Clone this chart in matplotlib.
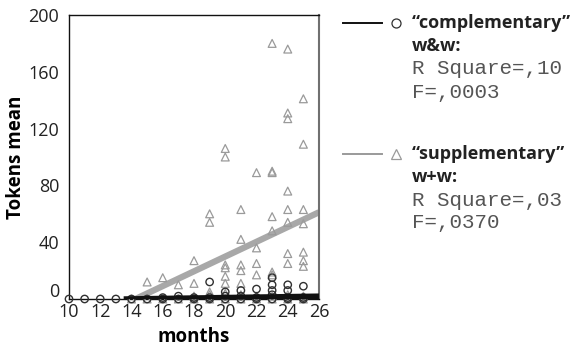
#!/usr/bin/env python3
# -*- coding: utf-8 -*-
"""
Tokens mean by months: complementary (w&w) vs supplementary (w+w), with linear fits.
"""

import numpy as np
import matplotlib
matplotlib.use("Agg")
import matplotlib.pyplot as plt
import matplotlib.transforms as mtransforms
from matplotlib.lines import Line2D

# ===================== data =====================
COMP_MONTHS = [10, 11, 12, 13, 14, 15, 16, 16, 17, 17, 18, 18,
               19, 19, 19, 20, 20, 20, 21, 21, 21, 22, 22, 22,
               23, 23, 23, 23, 23, 24, 24, 24, 24, 25, 25, 25]
COMP_TOKENS = [0, 0, 0, 0, 0, 0, 0, 1, 0, 2, 0, 1,
               0, 1, 12, 0, 2, 5, 0, 2, 6, 0, 1, 7,
               0, 3, 6, 10, 15, 0, 1, 6, 10, 0, 1, 9]

SUPP_MONTHS = [14, 15, 15, 16, 16, 17, 17,
               18, 18, 18, 18,
               19, 19, 19, 19, 19,
               20, 20, 20, 20, 20, 20, 20, 20,
               21, 21, 21, 21, 21, 21, 21,
               22, 22, 22, 22, 22, 22,
               23, 23, 23, 23, 23, 23, 23, 23, 23,
               24, 24, 24, 24, 24, 24, 24, 24, 24, 24,
               25, 25, 25, 25, 25, 25, 25, 25, 25]
SUPP_TOKENS = [0, 0, 12, 0, 15, 0, 10,
               0, 2, 11, 27,
               0, 3, 5, 54, 60,
               0, 4, 11, 16, 22, 24, 100, 106,
               0, 3, 11, 20, 24, 42, 63,
               0, 2, 17, 25, 36, 89,
               0, 2, 17, 19, 48, 58, 89, 90, 180,
               0, 3, 25, 32, 54, 63, 76, 127, 131, 176,
               0, 2, 23, 27, 33, 53, 63, 109, 141]

# linear fits (intercept, slope)
COMP_FIT = (-2.2, 0.16)
SUPP_FIT = (-74.1, 5.2)
COMP_FIT_RANGE = (13.5, 26)
SUPP_FIT_RANGE = (10, 26)

X_TICKS = [10, 12, 14, 16, 18, 20, 22, 24, 26]
Y_TICKS = [0, 40, 80, 120, 160, 200]

LEGEND_ROWS = [
    ("\u201ccomplementary\u201d", "w&w:", "R Square=,10", "F=,0003"),
    ("\u201csupplementary\u201d", "w+w:", "R Square=,03", "F=,0370"),
]

SANS = ["Open Sans", "DejaVu Sans"]
MONO = ["Liberation Mono", "DejaVu Sans Mono"]

# ===================== plot =====================
W, H = 580, 347
fig = plt.figure(figsize=(W / 100, H / 100), dpi=100)
ax = fig.add_axes([69 / W, 1 - 299 / H, (319 - 69) / W, (299 - 15) / H])

ax.scatter(SUPP_MONTHS, SUPP_TOKENS, marker="^", s=32, facecolors="none",
           edgecolors="#9a9a9a", linewidths=0.9, clip_on=False, zorder=3)
ax.scatter(COMP_MONTHS, COMP_TOKENS, marker="o", s=28, facecolors="none",
           edgecolors="#303030", linewidths=1.0, clip_on=False, zorder=4)

xs = np.linspace(*SUPP_FIT_RANGE, 50)
ax.plot(xs, SUPP_FIT[0] + SUPP_FIT[1] * xs, color="#a8a8a8", lw=4.5,
        solid_capstyle="butt", zorder=2)
xc = np.linspace(*COMP_FIT_RANGE, 50)
ax.plot(xc, COMP_FIT[0] + COMP_FIT[1] * xc, color="#111111", lw=4.0,
        solid_capstyle="butt", zorder=5)

ax.set_xlim(10, 26)
ax.set_ylim(0, 200)
ax.set_xticks(X_TICKS)
ax.set_yticks(Y_TICKS)
ax.tick_params(length=0, labelsize=13, colors="#222222")
ax.tick_params(axis="y", pad=7)
ax.tick_params(axis="x", pad=3)
for lab in ax.get_xticklabels() + ax.get_yticklabels():
    lab.set_family(SANS)

# the "0" label sits a bit above the baseline in the original
ylabs = ax.get_yticklabels()
ylabs[0].set_transform(ylabs[0].get_transform() +
                       mtransforms.ScaledTranslation(0, 9 / 100, fig.dpi_scale_trans))

for side in ["left", "top", "bottom"]:
    ax.spines[side].set_color("#111111")
    ax.spines[side].set_linewidth(1.0)
ax.spines["right"].set_color("#707070")
ax.spines["right"].set_linewidth(1.5)

ax.set_xlabel("months", family=SANS, fontsize=13.5, fontweight="bold", labelpad=4)
ax.set_ylabel("Tokens mean", family=SANS, fontsize=13.5, fontweight="bold", labelpad=2)

# ===================== legend (drawn by hand) =====================
def px(x, y):
    return x / W, 1 - y / H

styles = [("#111111", "o", "#303030"), ("#9a9a9a", "^", "#9a9a9a")]
tops = [23, 154]
for (title, sub, r2, f), (lc, mk, mc), y0 in zip(LEGEND_ROWS, styles, tops):
    x1, y1 = px(343, y0)
    x2, _ = px(382, y0)
    fig.add_artist(Line2D([x1, x2], [y1, y1], color=lc, lw=1.4,
                          transform=fig.transFigure))
    xm, _ = px(396, y0)
    fig.add_artist(Line2D([xm], [y1], marker=mk, markersize=6.5,
                          markerfacecolor="none", markeredgecolor=mc,
                          markeredgewidth=0.9, transform=fig.transFigure))
    for i, (txt, fam, wt, col) in enumerate([(title, SANS, "bold", "#222222"),
                                              (sub, SANS, "bold", "#222222"),
                                              (r2, MONO, "normal", "#555555"),
                                              (f, MONO, "normal", "#555555")]):
        tx, ty = px(412, y0 + 23 * i)
        fig.text(tx, ty, txt, family=fam, fontweight=wt, color=col,
                 fontsize=13 if fam == SANS else 15, va="center", ha="left")

fig.savefig("out.png", dpi=100)
